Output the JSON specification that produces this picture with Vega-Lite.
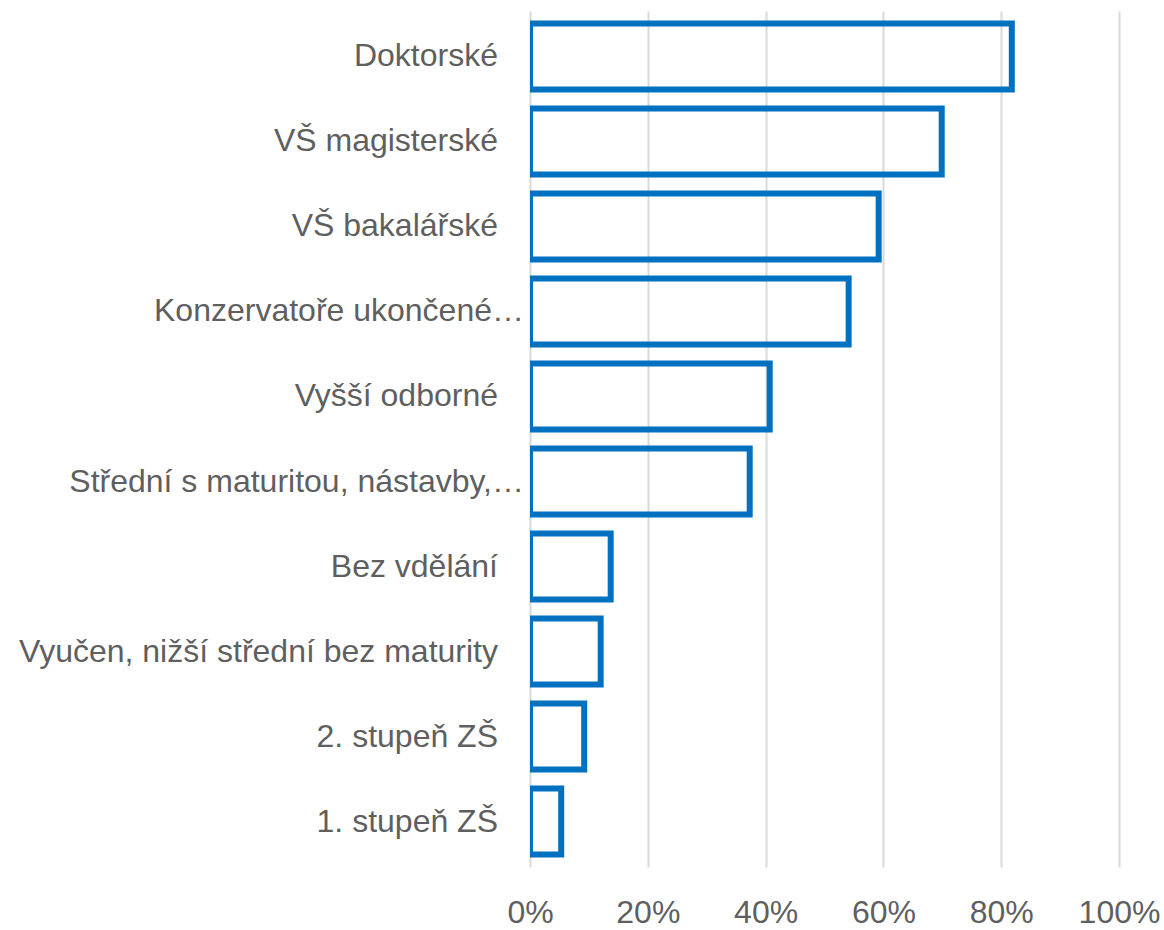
{
  "$schema": "https://vega.github.io/schema/vega-lite/v6.json",
  "autosize": "none",
  "padding": {"left": 530, "top": 11, "right": 45, "bottom": 63},
  "width": 589,
  "height": 856,
  "background": "white",
  "config": {"view": {"stroke": null}},
  "data": {
    "values": [
      {"vzdelani": "Doktorské", "podil": 0.818},
      {"vzdelani": "VŠ magisterské", "podil": 0.699},
      {"vzdelani": "VŠ bakalářské", "podil": 0.592},
      {"vzdelani": "Konzervatoře ukončené…", "podil": 0.541},
      {"vzdelani": "Vyšší odborné", "podil": 0.407},
      {"vzdelani": "Střední s maturitou, nástavby,…", "podil": 0.373},
      {"vzdelani": "Bez vdělání", "podil": 0.137},
      {"vzdelani": "Vyučen, nižší střední bez maturity", "podil": 0.12},
      {"vzdelani": "2. stupeň ZŠ", "podil": 0.092},
      {"vzdelani": "1. stupeň ZŠ", "podil": 0.053}
    ]
  },
  "encoding": {
    "y": {
      "field": "vzdelani",
      "type": "nominal",
      "sort": null,
      "scale": {"paddingInner": 0.224, "paddingOuter": 0.147},
      "axis": null
    }
  },
  "layer": [
    {
      "mark": {
        "type": "bar",
        "fill": "transparent",
        "stroke": "#0070C0",
        "strokeWidth": 6,
        "strokeJoin": "miter",
        "x2Offset": -8,
        "clip": true
      },
      "encoding": {
        "x": {
          "field": "podil",
          "type": "quantitative",
          "stack": null,
          "scale": {"domain": [0, 1], "nice": false},
          "axis": {
            "title": null,
            "format": ".0%",
            "values": [0, 0.2, 0.4, 0.6, 0.8, 1],
            "domain": false,
            "ticks": false,
            "grid": true,
            "gridColor": "#d9d9d9",
            "gridWidth": 2,
            "labelPadding": 30,
            "labelFont": "Liberation Sans",
            "labelFontSize": 32,
            "labelColor": "#5f5f5f",
            "labelFlush": false
          }
        }
      }
    },
    {
      "transform": [{"filter": "indexof(datum.vzdelani, 'Konzerv') >= 0 || indexof(datum.vzdelani, 'maturitou,') >= 0"}],
      "mark": {
        "type": "text",
        "align": "right",
        "baseline": "middle",
        "dx": -6,
        "font": "Liberation Sans",
        "fontSize": 32,
        "color": "#5f5f5f"
      },
      "encoding": {
        "x": {"datum": 0, "type": "quantitative"},
        "text": {"field": "vzdelani"}
      }
    },
    {
      "transform": [{"filter": "indexof(datum.vzdelani, 'Konzerv') < 0 && indexof(datum.vzdelani, 'maturitou,') < 0"}],
      "mark": {
        "type": "text",
        "align": "right",
        "baseline": "middle",
        "dx": -32,
        "font": "Liberation Sans",
        "fontSize": 32,
        "color": "#5f5f5f"
      },
      "encoding": {
        "x": {"datum": 0, "type": "quantitative"},
        "text": {"field": "vzdelani"}
      }
    }
  ]
}
